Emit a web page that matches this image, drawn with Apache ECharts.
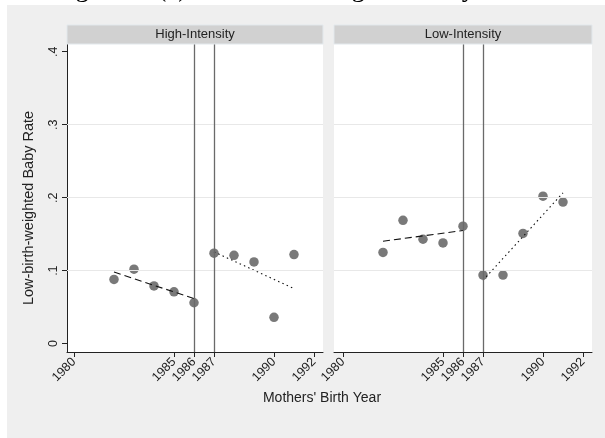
<!DOCTYPE html>
<html>
<head>
<meta charset="utf-8">
<script src="https://cdn.jsdelivr.net/npm/echarts@6/dist/echarts.min.js"></script>
<style>html,body{margin:0;padding:0;background:#fff;}#c{width:605px;height:438px;}</style>
</head>
<body>
<div id="c"></div>
<script>
var panels = ['High-Intensity', 'Low-Intensity'];
var years = [1982, 1983, 1984, 1985, 1986, 1987, 1988, 1989, 1990, 1991];
var highRate = [0.088, 0.102, 0.079, 0.071, 0.056, 0.124, 0.121, 0.112, 0.036, 0.122];
var lowRate = [0.125, 0.169, 0.143, 0.138, 0.161, 0.094, 0.094, 0.151, 0.202, 0.194];
var highPreFit = [[1982, 0.098], [1986, 0.0617]];
var highPostFit = [[1987, 0.1257], [1991, 0.0754]];
var lowPreFit = [[1982, 0.1403], [1986, 0.155]];
var lowPostFit = [[1987, 0.0868], [1991, 0.2066]];
var xTicks = [1980, 1985, 1986, 1987, 1990, 1992];
var yTicks = [0, 0.1, 0.2, 0.3, 0.4];
var gridValues = [0.1, 0.2, 0.3];
var cutoffYears = [1986, 1987];
var caption = 'Figure 10(c) Low-birth-weighted Baby Rate';
var xTitle = "Mothers' Birth Year";
var yTitle = 'Low-birth-weighted Baby Rate';

var font = '"Liberation Sans", Arial, sans-serif';
var chart = echarts.init(document.getElementById('c'), null, {renderer: 'canvas'});

var G = [
  {left: 67, top: 44, width: 256, height: 308},
  {left: 334, top: 44, width: 258, height: 308}
];

function xAxis(i, min) {
  return {
    type: 'value', gridIndex: i, min: min, max: 1992.45,
    axisLine: {show: true, onZero: false, lineStyle: {color: '#222', width: 1}},
    axisTick: {show: true, customValues: xTicks, length: 5, lineStyle: {color: '#222'}},
    axisLabel: {show: true, customValues: xTicks, rotate: 45, fontSize: 12.5, color: '#222',
      fontFamily: font, margin: 8, formatter: function (v) { return String(Math.round(v)); }},
    splitLine: {show: false}
  };
}
function yAxis(i) {
  var show = i === 0;
  return {
    type: 'value', gridIndex: i, min: -0.0115, max: 0.4106,
    axisLine: {show: show, onZero: false, lineStyle: {color: '#222', width: 1}},
    axisTick: {show: show, customValues: yTicks, length: 5, lineStyle: {color: '#222'}},
    axisLabel: {show: show, customValues: yTicks, rotate: 90, fontSize: 12.5, color: '#222',
      fontFamily: font, margin: 7,
      formatter: function (v) { return v === 0 ? '0' : '.' + Math.round(v * 10); }},
    splitLine: {show: false}
  };
}

function panelSeries(i, rates, pre, post) {
  var pts = years.map(function (y, k) { return [y, rates[k]]; });
  return [
    {type: 'line', xAxisIndex: i, yAxisIndex: i, data: [], silent: true, z: 1,
      markLine: {silent: true, symbol: 'none', label: {show: false},
        lineStyle: {color: '#e8e8e8', width: 1, type: 'solid'},
        data: gridValues.map(function (v) { return {yAxis: v}; })}},
    {type: 'line', xAxisIndex: i, yAxisIndex: i, data: [], silent: true, z: 2,
      markLine: {silent: true, symbol: 'none', label: {show: false},
        lineStyle: {color: '#6a6a6a', width: 1.3, type: 'solid'},
        data: cutoffYears.map(function (v) { return {xAxis: v}; })}},
    {type: 'scatter', xAxisIndex: i, yAxisIndex: i, data: pts, symbolSize: 9.5,
      itemStyle: {color: '#585858'}, z: 3},
    {type: 'line', xAxisIndex: i, yAxisIndex: i, data: pre, symbol: 'none', z: 4,
      lineStyle: {color: '#111', width: 1.1, type: [7, 4]}},
    {type: 'line', xAxisIndex: i, yAxisIndex: i, data: post, symbol: 'none', z: 4,
      lineStyle: {color: '#111', width: 1.1, type: [1.5, 3.2]}}
  ];
}

var graphics = [
  {type: 'rect', shape: {x: 7, y: 5, width: 598, height: 433}, style: {fill: '#efefef'}, z: -100, silent: true},
  {type: 'text', x: 53, y: -11.5, z: 100, silent: true,
    style: {text: caption, font: '27px "Liberation Serif", "Times New Roman", serif', fill: '#000', verticalAlign: 'middle'}},
  {type: 'text', x: 322, y: 398, z: 100, silent: true,
    style: {text: xTitle, font: '14px ' + font, fill: '#222', align: 'center', verticalAlign: 'middle'}},
  {type: 'text', x: 29, y: 208, rotation: Math.PI / 2, z: 100, silent: true,
    style: {text: yTitle, font: '14.5px ' + font, fill: '#222', align: 'center', verticalAlign: 'middle'}}
];
G.forEach(function (g, i) {
  graphics.push({type: 'rect', shape: {x: g.left, y: g.top, width: g.width, height: g.height},
    style: {fill: '#fff'}, z: -90, silent: true});
  graphics.push({type: 'rect', shape: {x: g.left, y: 25, width: g.width, height: 19},
    style: {fill: '#d1d1d1', stroke: '#e2e8ec', lineWidth: 1}, z: 50, silent: true});
  graphics.push({type: 'text', x: g.left + g.width / 2, y: 34.5, z: 51, silent: true,
    style: {text: panels[i], font: '13px ' + font, fill: '#222', align: 'center', verticalAlign: 'middle'}});
});

var option = {
  backgroundColor: '#fff',
  animation: false,
  grid: G.map(function (g) { return {left: g.left, top: g.top, width: g.width, height: g.height, show: false}; }),
  xAxis: [xAxis(0, 1979.65), xAxis(1, 1979.55)],
  yAxis: [yAxis(0), yAxis(1)],
  graphic: graphics,
  series: panelSeries(0, highRate, highPreFit, highPostFit).concat(panelSeries(1, lowRate, lowPreFit, lowPostFit))
};
chart.setOption(option);
</script>
</body>
</html>
